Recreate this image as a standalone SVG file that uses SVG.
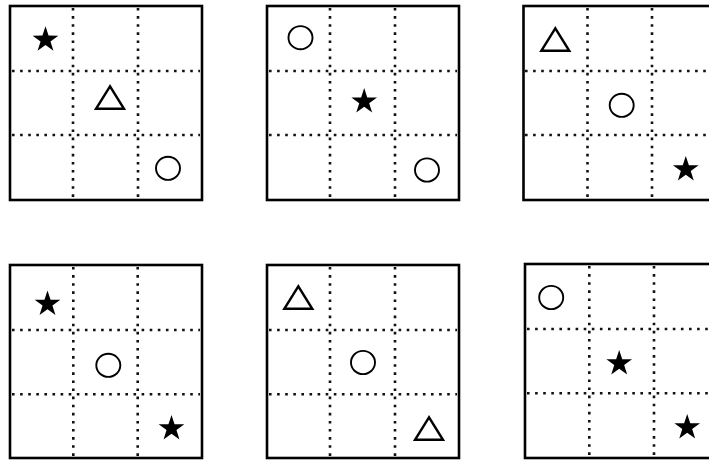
<svg xmlns="http://www.w3.org/2000/svg" width="709" height="460" viewBox="0 0 709 460">
<style>
.box{fill:none;stroke:#000;stroke-width:2.6}
.dot{fill:none;stroke:#111;stroke-width:2.6;stroke-dasharray:2.6 5.5}
.star{fill:#000}
.tri{fill:none;stroke:#000;stroke-width:2.4;stroke-linejoin:miter}
.circ{fill:none;stroke:#000;stroke-width:1.9}
</style>
<defs>
<polygon id="star" class="star" points="0,-13.5 3.06,-4.21 12.84,-4.17 4.95,1.61 7.94,10.92 0,5.2 -7.94,10.92 -4.95,1.61 -12.84,-4.17 -3.06,-4.21"/>
<polygon id="tri" class="tri" points="0,-11.5 -14,11 14,11"/>
<ellipse id="circ" class="circ" cx="0" cy="0" rx="12" ry="11.6"/>
</defs>
<rect width="709" height="460" fill="#fff"/>

<g id="grid1">
<rect class="box" x="10" y="6" width="192" height="194"/>
<path class="dot" d="M12 71H200M12 135H200M73 8V198M138 8V198"/>
<use href="#star" x="45.5" y="39.8"/>
<use href="#tri" x="110" y="97.8"/>
<use href="#circ" x="168" y="168.3"/>
</g>

<g id="grid2">
<rect class="box" x="267" y="6" width="192" height="194"/>
<path class="dot" d="M269 71H457M269 135H457M330 8V198M395 8V198"/>
<use href="#circ" x="300.5" y="37.7"/>
<use href="#star" x="364.2" y="101.6"/>
<use href="#circ" x="427" y="170"/>
</g>

<g id="grid3">
<rect class="box" x="523.5" y="6" width="193" height="194"/>
<path class="dot" d="M525 71H709M525 135H709M587.5 8V198M652 8V198"/>
<use href="#tri" x="555.3" y="39.8"/>
<use href="#circ" x="621.7" y="105.3"/>
<use href="#star" x="685.8" y="169.5"/>
</g>

<g id="grid4">
<rect class="box" x="10" y="265" width="192" height="193"/>
<path class="dot" d="M12 330H200M12 394.3H200M73.3 267V456M137.7 267V456"/>
<use href="#star" x="47.5" y="304"/>
<use href="#circ" x="108.3" y="365.3"/>
<use href="#star" x="171.5" y="428.5"/>
</g>

<g id="grid5">
<rect class="box" x="267" y="265" width="192" height="193"/>
<path class="dot" d="M269 330H457M269 394.3H457M330 267V456M395 267V456"/>
<use href="#tri" x="298.3" y="297.8"/>
<use href="#circ" x="363" y="362.5"/>
<use href="#tri" x="429" y="428.8"/>
</g>

<g id="grid6">
<rect class="box" x="525" y="264" width="193" height="194"/>
<path class="dot" d="M527 329H709M527 393.3H709M589.3 266V456M654 266V456"/>
<use href="#circ" x="551.2" y="297.5"/>
<use href="#star" x="619.2" y="363.5"/>
<use href="#star" x="687.2" y="427.5"/>
</g>
</svg>
